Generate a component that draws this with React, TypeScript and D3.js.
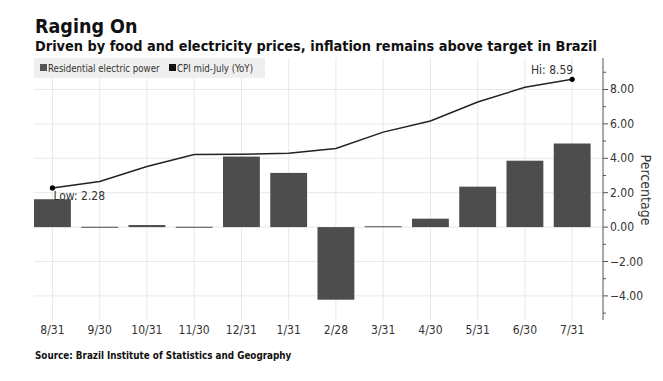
import React from "react";
import * as d3 from "d3";

const categories = ["8/31", "9/30", "10/31", "11/30", "12/31", "1/31", "2/28", "3/31", "4/30", "5/31", "6/30", "7/31"];
const electricPower = [1.62, 0.02, 0.12, 0.02, 4.1, 3.15, -4.22, 0.05, 0.49, 2.35, 3.86, 4.86];
const cpi = [2.28, 2.65, 3.52, 4.22, 4.23, 4.3, 4.57, 5.52, 6.17, 7.27, 8.13, 8.59];
const yTicks = [-4, -2, 0, 2, 4, 6, 8];
const yMinorTicks = [-5, -3, -1, 1, 3, 5, 7, 9];

const W = 663;
const H = 381;
const plotLeft = 34;
const axisX = 603;
const plotTop = 58;
const plotBottom = 320;

export default function App() {
  const x = d3.scalePoint<string>().domain(categories).range([28.8, 595.8]).padding(0.5);
  const step = x.step();
  const barW = step * 0.78;
  const y = d3.scaleLinear().domain([-5.4, 9.83]).range([plotBottom, plotTop]);
  const line = d3
    .line<number>()
    .x((_, i) => x(categories[i]) as number)
    .y((d) => y(d));
  const font = "'DejaVu Sans Condensed', 'DejaVu Sans', sans-serif";
  const lowI = 0;
  const hiI = cpi.length - 1;
  return (
    <svg width={W} height={H} style={{ position: "absolute", left: 0, top: 0, background: "#fff" }}>
      <rect width={W} height={H} fill="#fff" />
      <text x={35} y={33} fontFamily={font} fontWeight="bold" fontSize={19.5} fill="#111">
        Raging On
      </text>
      <text x={35} y={51} fontFamily={font} fontWeight="bold" fontSize={14.4} fill="#111">
        Driven by food and electricity prices, inflation remains above target in Brazil
      </text>
      {/* gridlines */}
      {categories.map((c) => (
        <line key={c} x1={x(c)} x2={x(c)} y1={plotTop} y2={plotBottom} stroke="#e8e8e8" strokeWidth={1} />
      ))}
      {yTicks.map((t) => (
        <line key={t} x1={plotLeft} x2={axisX} y1={y(t)} y2={y(t)} stroke="#e8e8e8" strokeWidth={1} />
      ))}
      {/* legend */}
      <rect x={34} y={58} width={231} height={20} fill="#efefef" />
      <rect x={40} y={64} width={7} height={7} fill="#555" />
      <text x={48} y={71.5} fontFamily={font} fontSize={9.6} fill="#333">
        Residential electric power
      </text>
      <rect x={169} y={64} width={7} height={7} fill="#111" />
      <text x={177} y={71.5} fontFamily={font} fontSize={9.6} fill="#333">
        CPI mid-July (YoY)
      </text>
      {/* bars */}
      {electricPower.map((v, i) => (
        <rect
          key={i}
          x={(x(categories[i]) as number) - barW / 2}
          y={Math.min(y(v), y(0))}
          width={barW}
          height={Math.max(Math.abs(y(v) - y(0)), 1)}
          fill="#4d4d4d"
        />
      ))}
      {/* line */}
      <path d={line(cpi) || ""} fill="none" stroke="#222" strokeWidth={1.5} />
      <circle cx={x(categories[lowI])} cy={y(cpi[lowI])} r={2.6} fill="#000" />
      <circle cx={x(categories[hiI])} cy={y(cpi[hiI])} r={2.6} fill="#000" />
      <text x={(x(categories[lowI]) as number) + 1} y={y(cpi[lowI]) + 12} fontFamily={font} fontSize={12} fill="#333">
        Low: {cpi[lowI].toFixed(2)}
      </text>
      <text x={(x(categories[hiI]) as number) + 1} y={y(cpi[hiI]) - 5} textAnchor="end" fontFamily={font} fontSize={12} fill="#333">
        Hi: {cpi[hiI].toFixed(2)}
      </text>
      {/* y axis */}
      <line x1={axisX} x2={axisX} y1={plotTop} y2={plotBottom} stroke="#555" strokeWidth={1} />
      {yTicks.map((t) => (
        <g key={t}>
          <line x1={axisX} x2={axisX + 5} y1={y(t)} y2={y(t)} stroke="#555" />
          <text x={axisX + 7} y={y(t) + 4} fontFamily={font} fontSize={12} fill="#333">
            {d3.format(".2f")(t)}
          </text>
        </g>
      ))}
      {yMinorTicks.map((t) => (
        <line key={t} x1={axisX} x2={axisX + 3} y1={y(t)} y2={y(t)} stroke="#555" />
      ))}
      <text
        transform={`translate(641, ${190}) rotate(90)`}
        textAnchor="middle"
        fontFamily={font}
        fontSize={14}
        fill="#333"
      >
        Percentage
      </text>
      {/* x labels */}
      {categories.map((c) => (
        <text key={c} x={x(c)} y={334} textAnchor="middle" fontFamily={font} fontSize={12} fill="#333">
          {c}
        </text>
      ))}
      <text x={35} y={359} fontFamily={font} fontWeight="bold" fontSize={9.8} fill="#111">
        Source: Brazil Institute of Statistics and Geography
      </text>
    </svg>
  );
}
